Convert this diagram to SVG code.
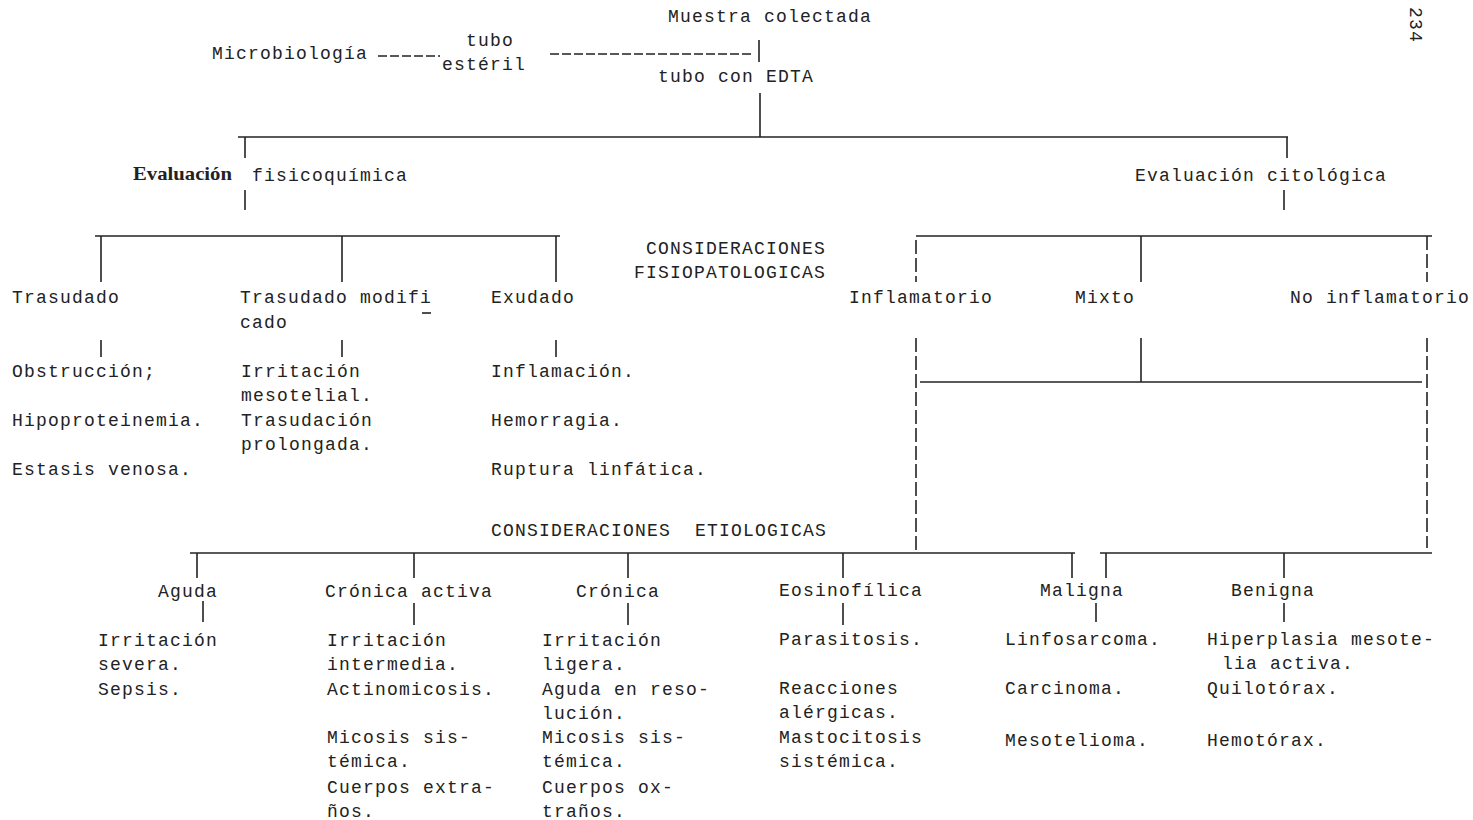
<svg xmlns="http://www.w3.org/2000/svg" width="1473" height="820" viewBox="0 0 1473 820">
<style>
text{font-family:"Liberation Mono","DejaVu Sans Mono",monospace;font-size:18px;letter-spacing:1.2px;fill:#222}
.ev{font-family:"Liberation Serif","DejaVu Serif",serif;font-size:19px;letter-spacing:0;font-weight:bold}
.c line{stroke:#222;stroke-width:1.6;fill:none}
.c .d{stroke-dasharray:14 4}
.c .h{stroke-dasharray:9 3;stroke-width:1.4}
</style>
<rect width="1473" height="820" fill="#fff"/>
<g class="c" id="connectors">
<line class="h" x1="378" y1="56" x2="440" y2="56"/>
<line class="h" x1="550" y1="54" x2="754" y2="54"/>
<line x1="759" y1="40" x2="759" y2="62"/>
<line x1="760" y1="93" x2="760" y2="137"/>
<line x1="238" y1="137" x2="1288" y2="137"/>
<line x1="245" y1="137" x2="245" y2="158"/>
<line x1="1287" y1="137" x2="1287" y2="158"/>
<line x1="245" y1="190" x2="245" y2="210"/>
<line x1="1284" y1="190" x2="1284" y2="210"/>
<line x1="95" y1="236" x2="560" y2="236"/>
<line x1="101" y1="236" x2="101" y2="282"/>
<line x1="342" y1="236" x2="342" y2="282"/>
<line x1="556" y1="236" x2="556" y2="282"/>
<line x1="101" y1="340" x2="101" y2="357"/>
<line x1="342" y1="340" x2="342" y2="357"/>
<line x1="556" y1="340" x2="556" y2="357"/>
<line x1="916" y1="236" x2="1432" y2="236"/>
<line class="d" x1="916" y1="240" x2="916" y2="282"/>
<line x1="1141" y1="236" x2="1141" y2="282"/>
<line class="d" x1="1427" y1="236" x2="1427" y2="282"/>
<line class="d" x1="916" y1="338" x2="916" y2="553"/>
<line x1="1141" y1="338" x2="1141" y2="382"/>
<line class="d" x1="1427" y1="338" x2="1427" y2="548"/>
<line x1="920" y1="382" x2="1422" y2="382"/>
<line x1="190" y1="553" x2="1075" y2="553"/>
<line x1="1100" y1="553" x2="1432" y2="553"/>
<line x1="197" y1="553" x2="197" y2="578"/>
<line x1="414" y1="553" x2="414" y2="578"/>
<line x1="628" y1="553" x2="628" y2="578"/>
<line x1="843" y1="553" x2="843" y2="578"/>
<line x1="1072" y1="553" x2="1072" y2="578"/>
<line x1="1106" y1="553" x2="1106" y2="578"/>
<line x1="1284" y1="553" x2="1284" y2="578"/>
<line x1="203" y1="601" x2="203" y2="622"/>
<line x1="414" y1="603" x2="414" y2="625"/>
<line x1="628" y1="603" x2="628" y2="625"/>
<line x1="843" y1="603" x2="843" y2="625"/>
<line x1="1096" y1="603" x2="1096" y2="622"/>
<line x1="1284" y1="603" x2="1284" y2="622"/>
</g>
<g id="page"><text transform="translate(1410,7) rotate(90)">234</text></g>
<g id="muestra"><text x="668" y="22">Muestra colectada</text></g>
<g id="micro"><text x="212" y="59">Microbiología</text></g>
<g id="tubo-esteril"><text x="466" y="46">tubo</text><text x="442" y="70">estéril</text></g>
<g id="tubo-edta"><text x="658" y="82">tubo con EDTA</text></g>
<g id="eval-fq"><text class="ev" x="133" y="180" textLength="99" lengthAdjust="spacingAndGlyphs">Evaluación</text><text x="252" y="181">fisicoquímica</text></g>
<g id="eval-cit"><text x="1135" y="181">Evaluación citológica</text></g>
<g id="cons-fisio"><text x="646" y="254">CONSIDERACIONES</text><text x="634" y="278">FISIOPATOLOGICAS</text></g>
<g id="trasudado"><text x="12" y="303">Trasudado</text></g>
<g id="trasudado-mod"><text x="240" y="303">Trasudado modifi</text><text x="240" y="328">cado</text><line x1="422" y1="313" x2="431" y2="313" stroke="#222" stroke-width="1.6"/></g>
<g id="exudado"><text x="491" y="303">Exudado</text></g>
<g id="inflamatorio"><text x="849" y="303">Inflamatorio</text></g>
<g id="mixto"><text x="1075" y="303">Mixto</text></g>
<g id="no-inflamatorio"><text x="1290" y="303">No inflamatorio</text></g>
<g id="tras-items"><text x="12" y="377">Obstrucción;</text><text x="12" y="426">Hipoproteinemia.</text><text x="12" y="475">Estasis venosa.</text></g>
<g id="trasmod-items"><text x="241" y="377">Irritación</text><text x="241" y="401">mesotelial.</text><text x="241" y="426">Trasudación</text><text x="241" y="450">prolongada.</text></g>
<g id="exud-items"><text x="491" y="377">Inflamación.</text><text x="491" y="426">Hemorragia.</text><text x="491" y="475">Ruptura linfática.</text></g>
<g id="cons-etio"><text x="491" y="536" xml:space="preserve">CONSIDERACIONES  ETIOLOGICAS</text></g>
<g id="aguda"><text x="158" y="597">Aguda</text><text x="98" y="646">Irritación</text><text x="98" y="670">severa.</text><text x="98" y="695">Sepsis.</text></g>
<g id="cronica-activa"><text x="325" y="597">Crónica activa</text><text x="327" y="646">Irritación</text><text x="327" y="670">intermedia.</text><text x="327" y="695">Actinomicosis.</text><text x="327" y="743">Micosis sis-</text><text x="327" y="767">témica.</text><text x="327" y="793">Cuerpos extra-</text><text x="327" y="817">ños.</text></g>
<g id="cronica"><text x="576" y="597">Crónica</text><text x="542" y="646">Irritación</text><text x="542" y="670">ligera.</text><text x="542" y="695">Aguda en reso-</text><text x="542" y="719">lución.</text><text x="542" y="743">Micosis sis-</text><text x="542" y="767">témica.</text><text x="542" y="793">Cuerpos ox-</text><text x="542" y="817">traños.</text></g>
<g id="eosinofilica"><text x="779" y="596">Eosinofílica</text><text x="779" y="645">Parasitosis.</text><text x="779" y="694">Reacciones</text><text x="779" y="718">alérgicas.</text><text x="779" y="743">Mastocitosis</text><text x="779" y="767">sistémica.</text></g>
<g id="maligna"><text x="1040" y="596">Maligna</text><text x="1005" y="645">Linfosarcoma.</text><text x="1005" y="694">Carcinoma.</text><text x="1005" y="746">Mesotelioma.</text></g>
<g id="benigna"><text x="1231" y="596">Benigna</text><text x="1207" y="645">Hiperplasia mesote-</text><text x="1222" y="669">lia activa.</text><text x="1207" y="694">Quilotórax.</text><text x="1207" y="746">Hemotórax.</text></g>
</svg>
